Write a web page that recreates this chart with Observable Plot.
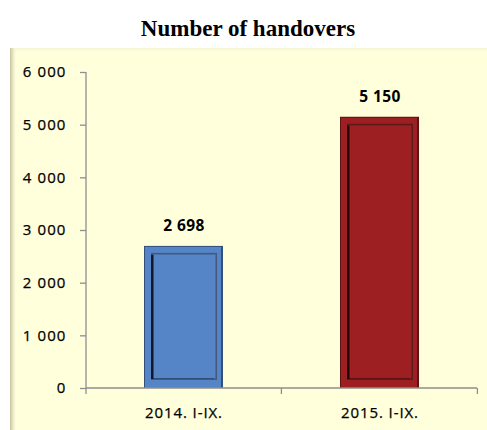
<!DOCTYPE html>
<html>
<head>
<meta charset="utf-8">
<script src="https://cdn.jsdelivr.net/npm/d3@7"></script>
<script src="https://cdn.jsdelivr.net/npm/@observablehq/plot@0.6"></script>
<style>
  html, body { margin: 0; padding: 0; background: #ffffff; }
  #wrap { position: relative; width: 487px; height: 430px; overflow: hidden; }
  #title { position: absolute; left: 0; top: 0; width: 487px; height: 48px;
    font-family: "Liberation Serif", "Times New Roman", serif; font-weight: bold;
    font-size: 23px; text-align: center; line-height: 58px; color: #000; padding-left: 9px; box-sizing: border-box; }
  #panel { position: absolute; left: 10px; top: 48px; width: 477px; height: 382px;
    background:
      linear-gradient(to right, #c9c5a2 0px, #dedbb8 2px, #f4f2d0 4px, rgba(255,255,220,0) 6px),
      linear-gradient(to bottom, #f6f4d6 0px, rgba(255,255,220,0) 4px),
      #FFFFDC; }
  #chart { position: absolute; left: 0; top: 0; }
  #chart g[aria-label="y-axis tick label"] text { letter-spacing: 1.1px; stroke: #000; stroke-width: 0.25px; }
  #chart g[aria-label="x-axis tick label"] text { letter-spacing: 0.9px; stroke: #000; stroke-width: 0.25px; }
  #chart g[aria-label="text"] text { letter-spacing: 0.4px; }
</style>
</head>
<body>
<div id="wrap">
  <div id="title">Number of handovers</div>
  <div id="panel"><div id="chart"></div></div>
</div>
<script>
const categories = ["2014. I-IX.", "2015. I-IX."];
const values = [2698, 5150];
const barColors = ["#5585C6", "#9D1F22"];
const edgeColors = ["#33507A", "#5E1214"];
const rimColors = ["#42597A", "#5C1B1B"];
const shadowColors = ["#0F1826", "#220405"];
const yTicks = [0, 1000, 2000, 3000, 4000, 5000, 6000];

const data = categories.map((c, i) => ({
  category: c, value: values[i], fill: barColors[i], edge: edgeColors[i], rim: rimColors[i], shadow: shadowColors[i]
}));
const fmt = d => d3.format(",")(d).replace(/,/g, " ");
const axisColor = "#8E8E8E";

function axesRender(index, scales) {
  const x = scales.x, y = scales.y;
  const [x0, x1] = x.range();
  const step = x.step();
  const pi = x.paddingInner ? x.paddingInner() : 0;
  const g = d3.create("svg:g").attr("stroke", axisColor).attr("fill", "none").attr("stroke-width", 1.3);
  const yb = y(0);
  g.append("line").attr("x1", x0).attr("x2", x0).attr("y1", y(6000)).attr("y2", yb);
  g.append("line").attr("x1", x0).attr("x2", x1).attr("y1", yb).attr("y2", yb);
  const bounds = [x0].concat(categories.map(c => x(c) + x.bandwidth() + pi * step / 2));
  for (const b of bounds) {
    g.append("line").attr("x1", b).attr("x2", b).attr("y1", yb).attr("y2", yb + 6);
  }
  return g.node();
}

const bar = (opts) => Plot.barY(data, {x: "category", y: "value", ...opts});

const chart = Plot.plot({
  width: 477,
  height: 382,
  marginLeft: 76,
  marginRight: 10,
  marginTop: 24,
  marginBottom: 42,
  style: { background: "transparent", fontFamily: "'Open Sans', sans-serif", fontSize: "15px", color: "#000", overflow: "visible" },
  x: { domain: categories, paddingInner: 0.596, paddingOuter: 0.292, label: null, axis: null },
  y: { domain: [0, 6000], label: null, axis: null },
  marks: [
    Plot.axisY({ticks: yTicks, tickFormat: fmt, tickSize: 6, tickPadding: 14, stroke: axisColor, fill: "#000",
      fontSize: 15, strokeWidth: 1.3, label: null}),
    Plot.axisX({tickSize: 0, tickPadding: 19, fontSize: 15, fill: "#000", label: null}),
    bar({fill: "edge"}),
    bar({fill: "fill", insetLeft: 1, insetTop: 1, insetRight: 2}),
    bar({fill: "rim", insetLeft: 7, insetRight: 6, insetTop: 7, insetBottom: 8}),
    bar({fill: "shadow", insetLeft: 7, insetRight: 9, insetTop: 9, insetBottom: 9}),
    bar({fill: "fill", insetLeft: 9.5, insetRight: 7.5, insetTop: 8.5, insetBottom: 9.5}),
    axesRender,
    Plot.text(data, {x: "category", y: "value", text: d => fmt(d.value), dy: -20, fontSize: 15.5, fontWeight: "bold", fill: "#000"})
  ]
});
document.getElementById("chart").appendChild(chart);
</script>
</body>
</html>
